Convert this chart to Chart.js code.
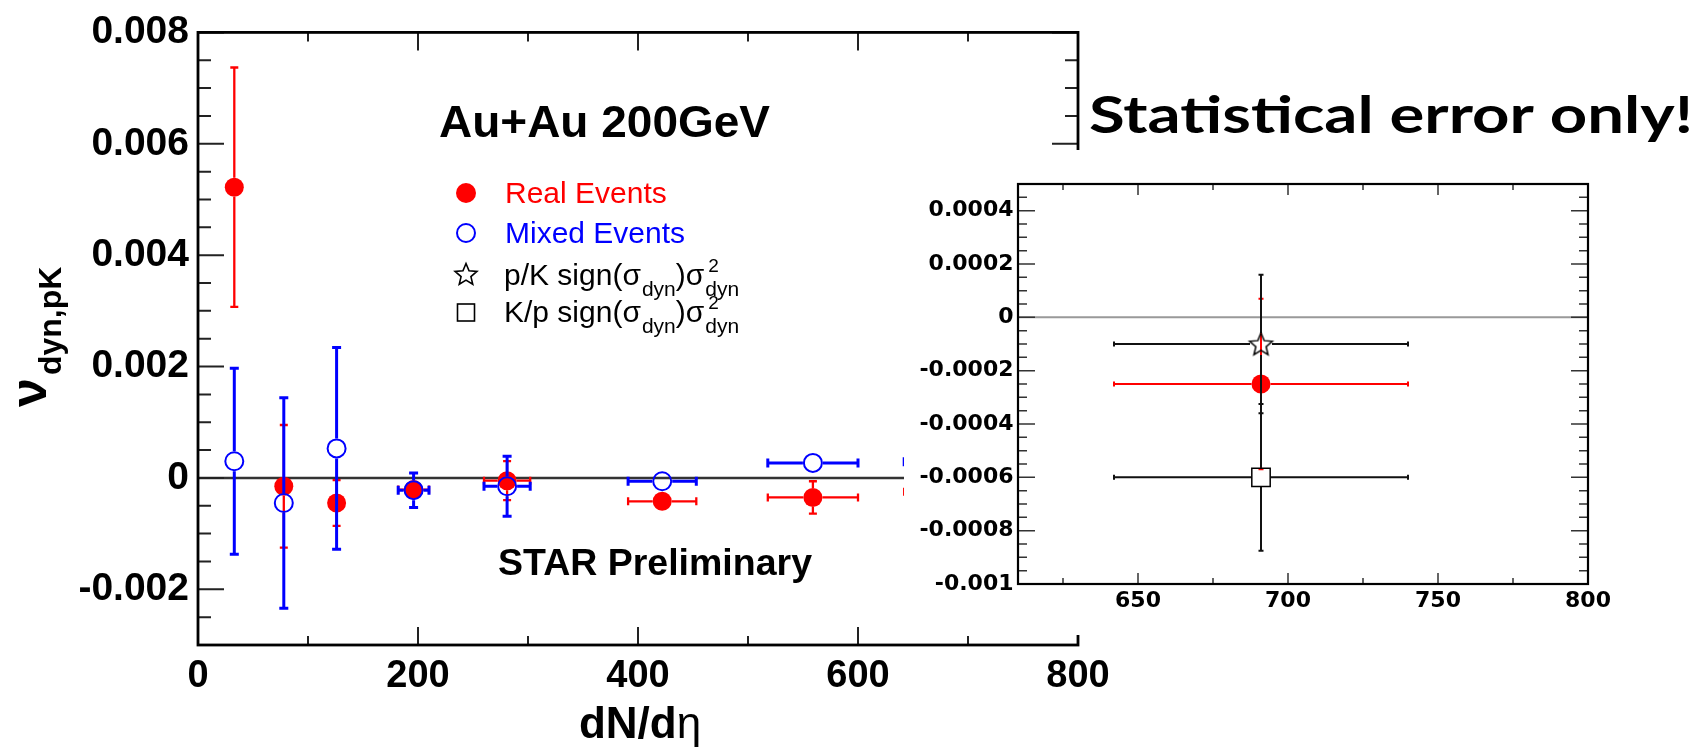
<!DOCTYPE html>
<html>
<head>
<meta charset="utf-8">
<script src="https://cdn.jsdelivr.net/npm/chart.js@4.4.1/dist/chart.umd.min.js"></script>
<style>
html,body{margin:0;padding:0;background:#fff;}
#wrap{position:relative;width:1702px;height:748px;overflow:hidden;background:#fff;}
#main{position:absolute;left:0;top:0;}
#inset{position:absolute;left:904px;top:150px;background:#fff;}
</style>
</head>
<body>
<div id="wrap">
<canvas id="main" width="1702" height="748"></canvas>
<canvas id="inset" width="798" height="485"></canvas>
</div>
<script>
// ---------------- data ----------------
// main panel: dN/deta bins
const dNdeta      = [33, 78, 126, 196, 281, 422, 559, 691];
const dNdetaErr   = [4, 6, 8, 14, 21, 31, 41, 49];
const realEvents     = [0.00522, -0.00015, -0.00045, -0.00021, -0.00005, -0.00042, -0.00035, -0.00025];
const realEventsErr  = [0.00215, 0.0011, 0.00041, 0.0001, 0.00035, 0.00006, 0.00029, 0.00032];
const mixedEvents    = [0.0003, -0.00045, 0.00053, -0.00022, -0.00015, -0.00006, 0.00027, 0.00029];
const mixedEventsErr = [0.00167, 0.00189, 0.00181, 0.00031, 0.00054, 0.00007, 0.00007, 0.0001];
const mainXTicks = [0, 200, 400, 600, 800];
const mainYTicks = [-0.002, 0, 0.002, 0.004, 0.006, 0.008];

// inset panel: most central bin
const insetX         = [691];
const insetXErr      = [49];
const insetReal      = [-0.00025];
const insetRealErr   = [0.00032];
const pkSigma        = [-0.0001];
const pkSigmaErr     = [0.00026];
const kpSigma        = [-0.0006];
const kpSigmaErr     = [0.000275];
const insetXTicks = [650, 700, 750, 800];
const insetYTicks = [-0.001, -0.0008, -0.0006, -0.0004, -0.0002, 0, 0.0002, 0.0004];

const legendLabels = ['Real Events', 'Mixed Events', 'p/K sign(σ', 'K/p sign(σ'];
const titleText = 'Au+Au 200GeV';
const prelimText = 'STAR Preliminary';
const noteText = 'Statistical error only!';

// ---------------- helpers ----------------
const SANS = '"Liberation Sans", Arial, Helvetica, sans-serif';
const DEJA = '"DejaVu Sans", sans-serif';
const RED = '#ff0000', BLUE = '#0000ff';

function pts(xs, ys) { return xs.map((x, i) => ({x: x, y: ys[i]})); }
function fmt(v, d) { const r = parseFloat(v.toFixed(d)); return r === 0 ? '0' : String(r); }

function starCanvas(R, ratio, lw, color) {
  const s = Math.ceil(2 * R + 2 * lw + 2);
  const c = document.createElement('canvas'); c.width = s; c.height = s;
  const g = c.getContext('2d');
  g.beginPath();
  for (let k = 0; k < 10; k++) {
    const a = -Math.PI / 2 + k * Math.PI / 5;
    const rr = (k % 2) ? R * ratio : R;
    const px = s / 2 + rr * Math.cos(a), py = s / 2 + rr * Math.sin(a) + 1;
    if (k === 0) g.moveTo(px, py); else g.lineTo(px, py);
  }
  g.closePath(); g.lineWidth = lw; g.strokeStyle = color; g.lineJoin = 'miter'; g.stroke();
  return c;
}
function drawStar(ctx, x, y, R, ratio, lw, color) {
  ctx.save(); ctx.beginPath();
  for (let k = 0; k < 10; k++) {
    const a = -Math.PI / 2 + k * Math.PI / 5;
    const rr = (k % 2) ? R * ratio : R;
    const px = x + rr * Math.cos(a), py = y + rr * Math.sin(a);
    if (k === 0) ctx.moveTo(px, py); else ctx.lineTo(px, py);
  }
  ctx.closePath(); ctx.lineWidth = lw; ctx.strokeStyle = color; ctx.stroke(); ctx.restore();
}

const errorBarPlugin = {
  id: 'errbars',
  beforeDatasetDraw(chart, args) {
    const ds = chart.data.datasets[args.index];
    const e = ds.err; if (!e) return;
    const ctx = chart.ctx, a = chart.chartArea, xs = chart.scales.x, ys = chart.scales.y;
    ctx.save();
    ctx.beginPath(); ctx.rect(a.left, a.top, a.right - a.left, a.bottom - a.top); ctx.clip();
    ctx.strokeStyle = e.color; ctx.lineWidth = e.width; ctx.lineCap = 'butt';
    args.meta.data.forEach((el, i) => {
      const d = ds.data[i];
      const cx = el.x, cy = el.y, g = e.gap, c = e.cap / 2;
      const xl = xs.getPixelForValue(d.x - e.x[i]), xr = xs.getPixelForValue(d.x + e.x[i]);
      const yt = ys.getPixelForValue(d.y + e.y[i]), yb = ys.getPixelForValue(d.y - e.y[i]);
      ctx.beginPath();
      if (cx - xl > g) {
        ctx.moveTo(xl, cy); ctx.lineTo(cx - g, cy);
        ctx.moveTo(cx + g, cy); ctx.lineTo(xr, cy);
        ctx.moveTo(xl, cy - c); ctx.lineTo(xl, cy + c);
        ctx.moveTo(xr, cy - c); ctx.lineTo(xr, cy + c);
      }
      if (yb - cy > g) {
        ctx.moveTo(cx, yt); ctx.lineTo(cx, cy - g);
        ctx.moveTo(cx, cy + g); ctx.lineTo(cx, yb);
        ctx.moveTo(cx - c, yt); ctx.lineTo(cx + c, yt);
        ctx.moveTo(cx - c, yb); ctx.lineTo(cx + c, yb);
      }
      ctx.stroke();
    });
    ctx.restore();
  }
};

function framePlugin(o) {
  return {
    id: 'frame',
    beforeDatasetsDraw(chart) {
      const ctx = chart.ctx, a = chart.chartArea, ys = chart.scales.y;
      const y0 = ys.getPixelForValue(0);
      ctx.save(); ctx.strokeStyle = o.zeroColor; ctx.lineWidth = o.zeroWidth;
      ctx.beginPath(); ctx.moveTo(a.left, y0); ctx.lineTo(a.right, y0); ctx.stroke(); ctx.restore();
    },
    afterDatasetsDraw(chart) {
      const ctx = chart.ctx, a = chart.chartArea, xs = chart.scales.x, ys = chart.scales.y;
      ctx.save();
      ctx.strokeStyle = o.tickColor; ctx.lineWidth = o.tickWidth;
      ctx.beginPath();
      for (let k = Math.ceil(ys.min / o.yMinor - 1e-6); k * o.yMinor <= ys.max + 1e-12; k++) {
        const v = k * o.yMinor, p = ys.getPixelForValue(v);
        const maj = Math.abs(v / o.yMajor - Math.round(v / o.yMajor)) < 1e-6;
        const L = maj ? o.yMajorLen : o.yMinorLen;
        ctx.moveTo(a.left, p); ctx.lineTo(a.left + L, p);
        ctx.moveTo(a.right, p); ctx.lineTo(a.right - L, p);
      }
      for (let k = Math.ceil(xs.min / o.xMinor - 1e-6); k * o.xMinor <= xs.max + 1e-9; k++) {
        const v = k * o.xMinor, p = xs.getPixelForValue(v);
        const maj = Math.abs(v / o.xMajor - Math.round(v / o.xMajor)) < 1e-6;
        const L = maj ? o.xMajorLen : o.xMinorLen;
        ctx.moveTo(p, a.bottom); ctx.lineTo(p, a.bottom - L);
        ctx.moveTo(p, a.top); ctx.lineTo(p, a.top + L);
      }
      ctx.stroke();
      ctx.strokeStyle = '#000'; ctx.lineWidth = o.frameWidth;
      ctx.strokeRect(a.left, a.top, a.right - a.left, a.bottom - a.top);
      ctx.restore();
    }
  };
}

function scaledText(ctx, s, x, y, font, color, width) {
  ctx.save(); ctx.font = font; ctx.fillStyle = color; ctx.textAlign = 'left'; ctx.textBaseline = 'alphabetic';
  const w = ctx.measureText(s).width;
  ctx.translate(x, y); if (width) ctx.scale(width / w, 1);
  ctx.fillText(s, 0, 0); ctx.restore();
}

const annotationsPlugin = {
  id: 'annot',
  afterDraw(chart) {
    const ctx = chart.ctx;
    scaledText(ctx, titleText, 439, 137, `bold 44px ${SANS}`, '#000', 331);
    scaledText(ctx, prelimText, 498, 575, `bold 37px ${SANS}`, '#000', 314);
    scaledText(ctx, noteText, 1089, 133, `bold 51px Lato, "Open Sans", sans-serif`, '#000', 604);

    // legend
    const mx = 466;
    ctx.save();
    ctx.fillStyle = RED; ctx.beginPath(); ctx.arc(mx, 193, 10, 0, 2 * Math.PI); ctx.fill();
    ctx.strokeStyle = BLUE; ctx.lineWidth = 2; ctx.beginPath(); ctx.arc(mx, 233, 9, 0, 2 * Math.PI); ctx.stroke();
    drawStar(ctx, mx, 275, 11.5, 0.45, 1.6, '#000');
    ctx.strokeStyle = '#000'; ctx.lineWidth = 1.6; ctx.strokeRect(mx - 8.5, 304, 17, 17);
    ctx.textAlign = 'left'; ctx.textBaseline = 'alphabetic';
    ctx.font = `30px ${SANS}`;
    ctx.fillStyle = RED; ctx.fillText(legendLabels[0], 505, 203);
    ctx.fillStyle = BLUE; ctx.fillText(legendLabels[1], 505, 243);
    ctx.fillStyle = '#000';
    [[legendLabels[2], 285], [legendLabels[3], 322]].forEach(([lab, by]) => {
      let x = 504;
      ctx.font = `30px ${SANS}`; ctx.fillText(lab, x, by); x += ctx.measureText(lab).width + 1;
      ctx.font = `21px ${SANS}`; ctx.fillText('dyn', x, by + 11); x += ctx.measureText('dyn').width;
      ctx.font = `30px ${SANS}`; ctx.fillText(')σ', x, by); x += ctx.measureText(')σ').width + 1;
      ctx.font = `19px ${SANS}`; ctx.fillText('2', x + 3, by - 13);
      ctx.font = `21px ${SANS}`; ctx.fillText('dyn', x, by + 11);
    });

    // x axis title
    ctx.font = `bold 44px ${SANS}`;
    const w1 = ctx.measureText('dN/d').width;
    ctx.font = `44px ${SANS}`;
    const w2 = ctx.measureText('η').width;
    const sx = 640 - (w1 + w2) / 2;
    ctx.font = `bold 44px ${SANS}`; ctx.fillText('dN/d', sx, 738);
    ctx.font = `44px ${SANS}`; ctx.fillText('η', sx + w1, 738);

    // y axis title
    ctx.translate(46, 407); ctx.rotate(-Math.PI / 2);
    ctx.font = `bold 52px ${SANS}`; ctx.fillText('ν', 0, 0);
    const wn = ctx.measureText('ν').width;
    ctx.font = `bold 32px ${SANS}`; ctx.fillText('dyn,pK', wn + 3, 15);
    ctx.restore();
  }
};

// ---------------- main chart ----------------
new Chart(document.getElementById('main'), {
  type: 'scatter',
  data: {
    datasets: [
      { label: 'Mixed Events', data: pts(dNdeta, mixedEvents), pointStyle: 'circle', pointRadius: 9,
        borderColor: BLUE, borderWidth: 2, backgroundColor: 'rgba(0,0,0,0)',
        err: { x: dNdetaErr, y: mixedEventsErr, color: BLUE, width: 3, gap: 10, cap: 9 } },
      { label: 'Real Events', data: pts(dNdeta, realEvents), pointStyle: 'circle', pointRadius: 9.5,
        borderColor: RED, borderWidth: 0, backgroundColor: RED,
        err: { x: dNdetaErr, y: realEventsErr, color: RED, width: 2.3, gap: 9.5, cap: 8 } }
    ]
  },
  options: {
    responsive: false, animation: false, devicePixelRatio: 1, events: [],
    layout: { padding: { left: 0, right: 624, top: 24, bottom: 0 } },
    plugins: { legend: { display: false }, tooltip: { enabled: false } },
    scales: {
      x: { type: 'linear', min: 0, max: 800,
        afterBuildTicks: s => { s.ticks = mainXTicks.map(v => ({ value: v })); },
        afterFit: s => { s.height = 103; },
        grid: { display: false, drawTicks: false }, border: { display: false },
        ticks: { autoSkip: false, maxRotation: 0, padding: 9, color: '#000',
          font: { family: SANS, size: 38, weight: 'bold' }, callback: v => fmt(v, 0) } },
      y: { type: 'linear', min: -0.003, max: 0.008,
        afterBuildTicks: s => { s.ticks = mainYTicks.map(v => ({ value: v })); },
        afterFit: s => { s.width = 198; },
        grid: { display: false, drawTicks: false }, border: { display: false },
        ticks: { autoSkip: false, padding: 9, color: '#000',
          font: { family: SANS, size: 39, weight: 'bold' }, callback: v => fmt(v, 3) } }
    }
  },
  plugins: [errorBarPlugin, framePlugin({
    zeroColor: '#333', zeroWidth: 2.5, tickColor: '#222', tickWidth: 2, frameWidth: 2.8,
    yMinor: 0.0005, yMajor: 0.002, yMinorLen: 13, yMajorLen: 26,
    xMinor: 100, xMajor: 200, xMinorLen: 9, xMajorLen: 18 }), annotationsPlugin]
});

// ---------------- inset chart ----------------
new Chart(document.getElementById('inset'), {
  type: 'scatter',
  data: {
    datasets: [
      { label: 'K/p', data: pts(insetX, kpSigma), pointStyle: 'rect', pointRadius: 13,
        borderColor: '#000', borderWidth: 1.5, backgroundColor: 'rgba(0,0,0,0)',
        err: { x: insetXErr, y: kpSigmaErr, color: '#111', width: 2, gap: 9.5, cap: 5 } },
      { label: 'p/K', data: pts(insetX, pkSigma), pointStyle: starCanvas(12, 0.45, 1.5, '#000'), pointRadius: 12,
        err: { x: insetXErr, y: pkSigmaErr, color: '#111', width: 2, gap: 11, cap: 5 } },
      { label: 'Real', data: pts(insetX, insetReal), pointStyle: 'circle', pointRadius: 9.5,
        borderColor: RED, borderWidth: 0, backgroundColor: RED,
        err: { x: insetXErr, y: insetRealErr, color: RED, width: 2, gap: 9.5, cap: 5 } }
    ]
  },
  options: {
    responsive: false, animation: false, devicePixelRatio: 1, events: [],
    layout: { padding: { left: 0, right: 114, top: 34, bottom: 0 } },
    plugins: { legend: { display: false }, tooltip: { enabled: false } },
    scales: {
      x: { type: 'linear', min: 610, max: 800,
        afterBuildTicks: s => { s.ticks = insetXTicks.map(v => ({ value: v })); },
        afterFit: s => { s.height = 51; },
        grid: { display: false, drawTicks: false }, border: { display: false },
        ticks: { autoSkip: false, maxRotation: 0, padding: 4.5, color: '#000',
          font: { family: DEJA, size: 22, weight: 'bold' }, callback: v => fmt(v, 0) } },
      y: { type: 'linear', min: -0.001, max: 0.0005,
        afterBuildTicks: s => { s.ticks = insetYTicks.map(v => ({ value: v })); },
        afterFit: s => { s.width = 114; },
        grid: { display: false, drawTicks: false }, border: { display: false },
        ticks: { autoSkip: false, padding: 4.5, color: '#000',
          font: { family: DEJA, size: 22, weight: 'bold' }, callback: v => fmt(v, 4) } }
    }
  },
  plugins: [errorBarPlugin, framePlugin({
    zeroColor: '#999', zeroWidth: 2, tickColor: '#333', tickWidth: 1.5, frameWidth: 2.2,
    yMinor: 0.00005, yMajor: 0.0002, yMinorLen: 9, yMajorLen: 17,
    xMinor: 25, xMajor: 50, xMinorLen: 6, xMajorLen: 11 })]
});
</script>
</body>
</html>
